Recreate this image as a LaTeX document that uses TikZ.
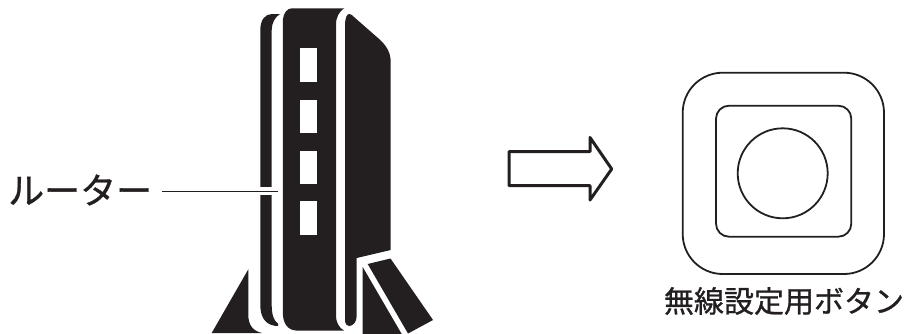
\documentclass[tikz,border=0pt]{standalone}
\usepackage{fontspec}
\newfontfamily\cjk[FakeBold=0.9]{Noto Sans CJK JP}
\definecolor{ink}{HTML}{231F20}
\tikzset{
  solidpart/.style={fill=ink,draw=none},
  windowpane/.style={fill=white,draw=none},
  outline/.style={draw=ink,line width=1.8pt,fill=none},
  arrowshape/.style={draw=ink,line width=3pt,line join=round,fill=white},
  bigLabel/.style={font=\cjk\fontsize{36}{36}\selectfont,text=ink,inner sep=0pt},
  smallLabel/.style={font=\cjk\fontsize{30}{30}\selectfont,text=ink,inner sep=0pt},
  leader/.style={draw=ink,line width=1.3pt}
}
\begin{document}
\begin{tikzpicture}[x=1pt,y=-1pt]
\useasboundingbox (0,0) rectangle (905,333);
\clip (0,0) rectangle (905,333);
% left strip
\path[solidpart] (260.3,305) -- (260.3,30) .. controls (260.3,20) and (265,14) .. (272,14) -- (280,14)
  .. controls (275,17) and (271.7,23) .. (271.7,30) -- (271.7,305) .. controls (271.7,315) and (274,321) .. (278,323.5)
  -- (278,326) .. controls (268,326) and (260.3,320) .. (260.3,305) -- cycle;
% centre
\path[solidpart] (282.8,20) .. controls (283.5,13) and (287,8.3) .. (292,8.3) -- (344,8.3)
  .. controls (339,12) and (336,17) .. (336,25) -- (336,316) .. controls (336,322) and (339,328) .. (344,330.5)
  -- (296,330.5) .. controls (288,330) and (282.8,324) .. (282.8,312) -- cycle;
% right body
\path[solidpart] (345,25) .. controls (345,18) and (347,14) .. (349,14) .. controls (351,14) and (352,15) .. (354,17)
  -- (378,38) .. controls (386,45) and (390.7,52) .. (390.7,62) -- (390.7,250) -- (356.7,258) -- (356.7,316)
  .. controls (356.7,322) and (353,326) .. (349,326) .. controls (347,326) and (345,324) .. (345,320) -- cycle;
% feet
\path[solidpart] (248.3,269.3) -- (211.7,333) -- (262,333) .. controls (253,331) and (248.3,325) .. (248.3,315) -- cycle;
\path[solidpart] (367.7,264) -- (390.5,258.5) -- (433,320) -- (408,333.5) -- cycle;
\path[solidpart] (362.7,267) -- (362.7,334) -- (401.7,334) -- cycle;
% windows
\foreach \yy in {48,99.5,150.5,201}
  \path[windowpane] (300,\yy) rectangle (317,\yy+33.7);
% leader
\path[fill=white] (258,187) rectangle (274,195.3);
\node[bigLabel,anchor=west] (routerlabel) at (8,190) {ルーター};
\coordinate (leadstart) at (162,191.3);
\coordinate (leadend) at (277.5,191.3);
\draw[leader] (leadstart) -- (leadend);
% arrow
\draw[arrowshape] (509,151.7) -- (590,151.7) -- (590,137.5) -- (611.7,169) -- (590,200) -- (590,185.7) -- (509,185.7) -- cycle;
% button
\path[outline,rounded corners=40pt] (682.7,72.7) rectangle (884,274);
\path[outline,rounded corners=13pt] (716,105.7) rectangle (851.3,236.7);
\path[outline] (782.7,173.3) circle[radius=45];
\node[smallLabel,anchor=center] (buttonlabel) at (784,301) {無線設定用ボタン};
\end{tikzpicture}
\end{document}
